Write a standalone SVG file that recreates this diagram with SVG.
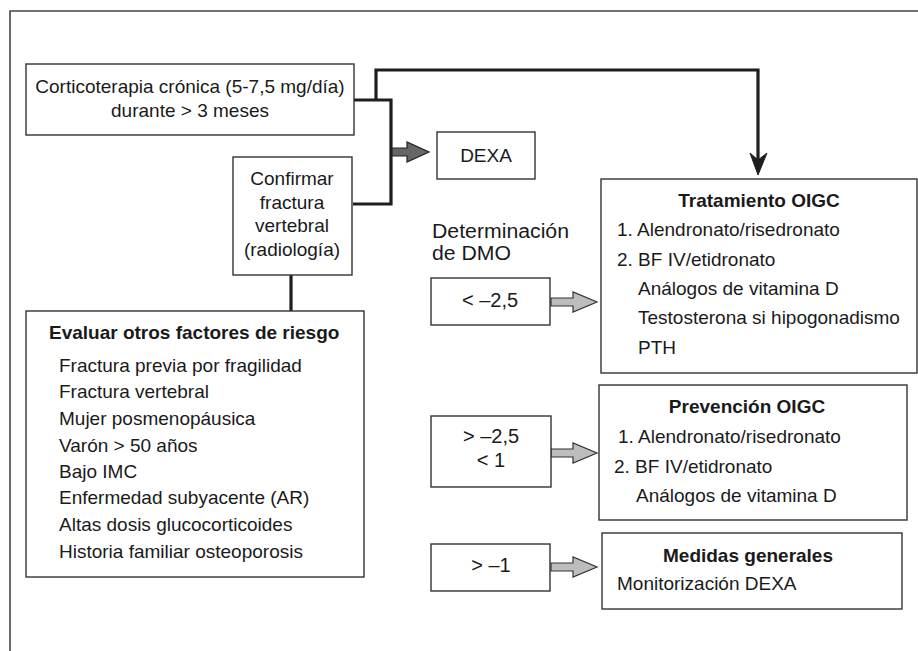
<svg xmlns="http://www.w3.org/2000/svg" width="918" height="651" viewBox="0 0 918 651">
<style>
text{font-family:"Liberation Sans",Arial,sans-serif;font-size:19px;fill:#1a1a1a}
.b{font-weight:bold}
.c{text-anchor:middle}
.box{fill:#fff;stroke:#333;stroke-width:1.4}
.conn{fill:none;stroke:#1e1e1e;stroke-width:3.2}
.ga{fill:#666;stroke:#222;stroke-width:1.2}
.la{fill:#bdbdbd;stroke:#333;stroke-width:1.2}
.frame{fill:none;stroke:#444;stroke-width:1.6}
.lg{font-size:20px}
</style>
<path class="frame" d="M10,651 V11 H918"/>
<g id="connectors">
<path class="conn" d="M354,100 H391 V204 H353"/>
<path class="conn" d="M376,100 V70 H758 V160"/>
<path d="M758,175 L750,153 L758,160 L767,153 Z" fill="#1e1e1e" stroke="#1e1e1e" stroke-width="1"/>
<path class="conn" d="M291,275 V311"/>
<path class="ga" d="M392,148 H407 V142 L429,152 L407,162 V156 H392 Z"/>
<path class="la" d="M551,298 H573 V292 L597,302 L573,312 V306 H551 Z"/>
<path class="la" d="M551,449 H573 V443 L597,453 L573,463 V457 H551 Z"/>
<path class="la" d="M551,563 H573 V557 L597,567 L573,577 V571 H551 Z"/>
</g>
<g id="corticoterapia">
<rect class="box" x="26" y="64" width="328" height="71"/>
<text class="c" x="190" y="93">Corticoterapia crónica (5-7,5 mg/día)</text>
<text class="c" x="190" y="117">durante &gt; 3 meses</text>
</g>
<g id="confirmar">
<rect class="box" x="233" y="157" width="119" height="118"/>
<text class="c" x="292" y="185">Confirmar</text>
<text class="c" x="292" y="209">fractura</text>
<text class="c" x="292" y="232">vertebral</text>
<text class="c" x="292" y="256">(radiología)</text>
</g>
<g id="dexa">
<rect class="box" x="437" y="132" width="98" height="47"/>
<text class="c" x="486" y="162">DEXA</text>
</g>
<g id="evaluar">
<rect class="box" x="26" y="311" width="338" height="266"/>
<text class="b" x="49" y="339">Evaluar otros factores de riesgo</text>
<text x="59" y="372">Fractura previa por fragilidad</text>
<text x="59" y="398">Fractura vertebral</text>
<text x="59" y="425">Mujer posmenopáusica</text>
<text x="59" y="452">Varón &gt; 50 años</text>
<text x="59" y="478">Bajo IMC</text>
<text x="59" y="504">Enfermedad subyacente (AR)</text>
<text x="59" y="531">Altas dosis glucocorticoides</text>
<text x="59" y="558">Historia familiar osteoporosis</text>
</g>
<g id="dmo-label">
<text x="432" y="238" style="font-size:19.5px" textLength="137" lengthAdjust="spacingAndGlyphs">Determinación</text>
<text x="432" y="260" style="font-size:19.5px" textLength="79" lengthAdjust="spacingAndGlyphs">de DMO</text>
</g>
<g id="dmo1">
<rect class="box" x="431" y="278" width="119" height="47"/>
<text class="c lg" x="490" y="307">&lt; –2,5</text>
</g>
<g id="dmo2">
<rect class="box" x="431" y="416" width="120" height="71"/>
<text class="c lg" x="491" y="443">&gt; –2,5</text>
<text class="c lg" x="491" y="467">&lt; 1</text>
</g>
<g id="dmo3">
<rect class="box" x="431" y="544" width="119" height="47"/>
<text class="c lg" x="491" y="572">&gt; –1</text>
</g>
<g id="tratamiento">
<rect class="box" x="601" y="179" width="316" height="194"/>
<text class="b c" x="759" y="207">Tratamiento OIGC</text>
<text x="617" y="236">1. Alendronato/risedronato</text>
<text x="617" y="266">2. BF IV/etidronato</text>
<text x="638" y="295">Análogos de vitamina D</text>
<text x="638" y="324">Testosterona si hipogonadismo</text>
<text x="638" y="354">PTH</text>
</g>
<g id="prevencion">
<rect class="box" x="599" y="385" width="308" height="135"/>
<text class="b c" x="747" y="413">Prevención OIGC</text>
<text x="618" y="443">1. Alendronato/risedronato</text>
<text x="614" y="473">2. BF IV/etidronato</text>
<text x="636" y="502">Análogos de vitamina D</text>
</g>
<g id="medidas">
<rect class="box" x="602" y="533" width="300" height="76"/>
<text class="b c" x="748" y="562">Medidas generales</text>
<text x="617" y="590">Monitorización DEXA</text>
</g>
</svg>
